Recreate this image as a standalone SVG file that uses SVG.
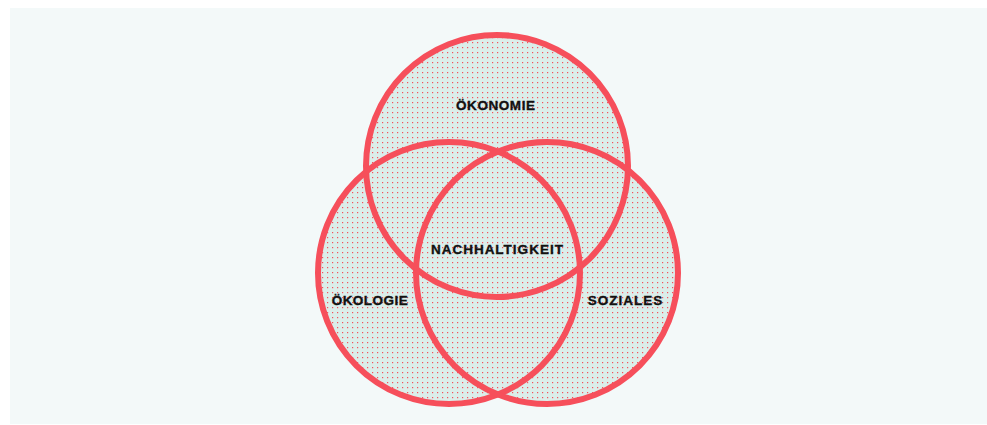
<svg xmlns="http://www.w3.org/2000/svg" width="987" height="425" viewBox="0 0 987 425">
<defs>
<pattern id="dots" x="0" y="0" width="5" height="5" patternUnits="userSpaceOnUse">
<rect width="5" height="5" fill="#dbeeea"/>
<rect x="2" y="2" width="1.2" height="1.2" fill="#f5505c"/>
</pattern>
<style>
.fill{fill:url(#dots);stroke:none}
.ring{fill:none;stroke:#f64f5b;stroke-width:6}
.lbl{font-family:"Liberation Sans","DejaVu Sans",Arial,sans-serif;font-weight:bold;font-size:13.5px;fill:#111;stroke:#111;stroke-width:0.35;text-anchor:middle}
</style>
</defs>
<rect x="10" y="8" width="977" height="416" fill="#f3f9f9"/>
<g id="fills">
<circle class="fill" cx="497" cy="166" r="131"/>
<circle class="fill" cx="449" cy="273" r="131"/>
<circle class="fill" cx="547" cy="273" r="131"/>
</g>
<g id="oekonomie">
<circle class="ring" cx="497" cy="166" r="131"/>
<text class="lbl" x="495.5" y="109.5" textLength="79" lengthAdjust="spacing">ÖKONOMIE</text>
</g>
<g id="oekologie">
<circle class="ring" cx="449" cy="273" r="131"/>
<text class="lbl" x="369.7" y="304.5" textLength="76" lengthAdjust="spacing">ÖKOLOGIE</text>
</g>
<g id="soziales">
<circle class="ring" cx="547" cy="273" r="131"/>
<text class="lbl" x="625" y="304.5" textLength="74.6" lengthAdjust="spacing">SOZIALES</text>
</g>
<g id="nachhaltigkeit">
<text class="lbl" x="496.9" y="254.3" textLength="132" lengthAdjust="spacing">NACHHALTIGKEIT</text>
</g>
<g id="connectors"/>
</svg>
